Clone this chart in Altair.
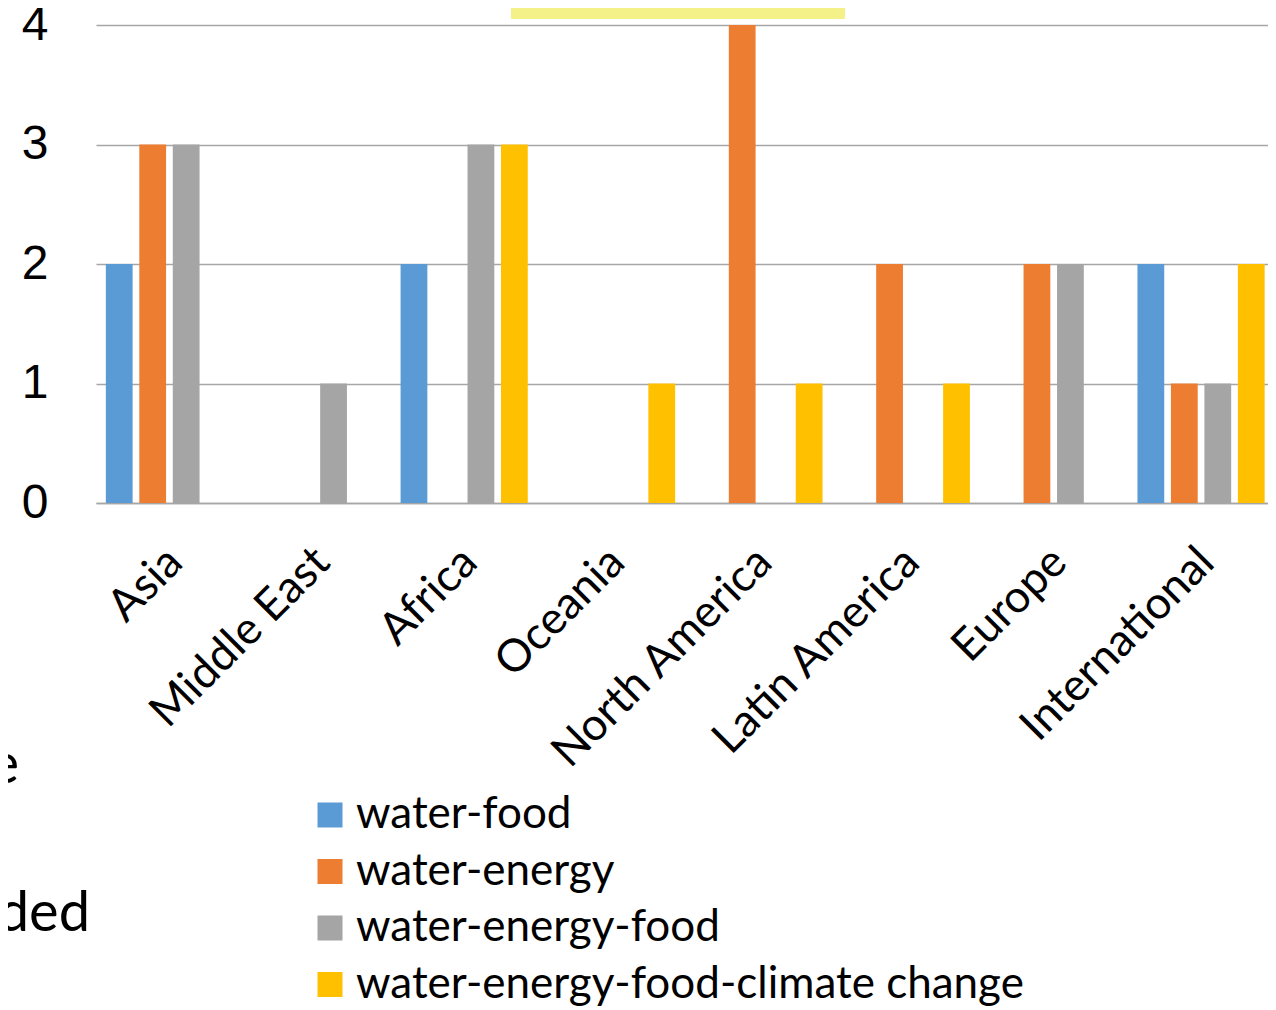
import altair as alt
import pandas as pd

categories = ["Asia", "Middle East", "Africa", "Oceania", "North America",
              "Latin America", "Europe", "International"]
series = ["water-food", "water-energy", "water-energy-food",
          "water-energy-food-climate change"]
water_food = [2, 0, 2, 0, 0, 0, 0, 2]
water_energy = [3, 0, 0, 0, 4, 2, 2, 1]
water_energy_food = [3, 1, 3, 0, 0, 0, 2, 1]
water_energy_food_climate = [0, 0, 3, 1, 1, 1, 0, 2]
colors = ["#5B9BD5", "#ED7D31", "#A5A5A5", "#FFC000"]

rows = []
for s, vals in zip(series, [water_food, water_energy, water_energy_food,
                            water_energy_food_climate]):
    for c, v in zip(categories, vals):
        rows.append({"region": c, "series": s, "count": v})
df = pd.DataFrame(rows)

bars = alt.Chart(df).mark_bar().encode(
    x=alt.X("region:N", sort=categories, title=None,
            scale=alt.Scale(paddingInner=0.0915, paddingOuter=0.022, align=1),
            axis=alt.Axis(labelAngle=-45, labelFontSize=45, labelFont="Lato",
                          labelColor="#000000", ticks=False, domain=True,
                          domainColor="#A6A6A6", domainWidth=1.5,
                          labelPadding=36, labelOffset=-10, labelLimit=1000,
                          grid=False)),
    xOffset=alt.XOffset("series:N", sort=series,
                        scale=alt.Scale(paddingInner=0.2, paddingOuter=0.1)),
    y=alt.Y("count:Q", title=None,
            scale=alt.Scale(domain=[0, 4], nice=False),
            axis=alt.Axis(values=[0, 1, 2, 3, 4], labelFontSize=48,
                          labelFont="Liberation Sans", labelColor="#000000",
                          ticks=False, domain=False, gridColor="#A6A6A6",
                          gridWidth=1.5, labelPadding=48, format="d")),
    color=alt.Color("series:N", sort=series,
                    scale=alt.Scale(domain=series, range=colors),
                    legend=alt.Legend(title=None, orient="none", legendX=212,
                                      legendY=768, symbolType="square",
                                      symbolSize=625, symbolStrokeWidth=0,
                                      labelFontSize=44, labelFont="Lato",
                                      labelColor="#000000", rowPadding=12.5,
                                      labelOffset=4, padding=0,
                                      labelLimit=1000)),
)

one = pd.DataFrame({"k": [0]})
banner = alt.Chart(one).mark_rect(color="#F3F187").encode(
    x=alt.value(415), x2=alt.value(749), y=alt.value(-17), y2=alt.value(-6))

frag_e = alt.Chart(one).mark_text(text="e", font="Lato", fontSize=56,
                                  align="right", baseline="alphabetic",
                                  color="#000000").encode(
    x=alt.value(-77), y=alt.value(758))
frag_ded = alt.Chart(one).mark_text(text="ded", font="Lato", fontSize=56,
                                    align="right", baseline="alphabetic",
                                    color="#000000").encode(
    x=alt.value(-6), y=alt.value(906))

chart = alt.layer(banner, bars, frag_e, frag_ded).properties(
    width=1172, height=478,
    autosize=alt.AutoSizeParams(type="none"),
    padding={"left": 88, "top": 17, "right": 0, "bottom": 503},
).configure_view(stroke=None)

chart.save("out.html", embed_options={"renderer": "svg", "actions": False})
